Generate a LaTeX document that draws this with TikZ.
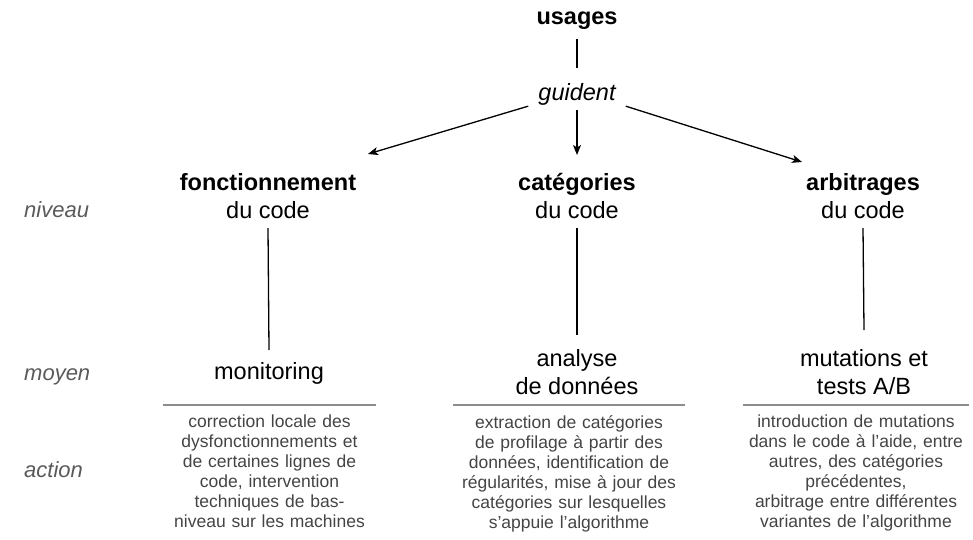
\documentclass[tikz,border=0pt]{standalone}
\usepackage{fontspec}
\setmainfont{Liberation Sans}
\usetikzlibrary{arrows.meta,calc}
\definecolor{lbl}{HTML}{5A5A5A}
\definecolor{acttxt}{HTML}{444444}
\definecolor{rulec}{HTML}{8C8C8C}
\tikzset{
  mainlbl/.style={font=\fontsize{23.5}{28.5}\selectfont, align=center, inner sep=2pt},
  sidelbl/.style={font=\fontsize{22}{26}\selectfont\itshape, text=lbl, anchor=base west, inner sep=0pt},
  actbox/.style={font=\fontsize{17.5}{20}\selectfont, text=acttxt, align=center, anchor=north, inner xsep=0pt, inner ysep=10pt},
  conn/.style={line width=1.3pt},
  arr/.style={line width=1.3pt, -{Stealth[length=10pt,width=8pt,inset=2.5pt]}},
  rulel/.style={line width=1.6pt, rulec}
}
\begin{document}
\begin{tikzpicture}[x=1pt,y=-1pt]
\useasboundingbox (0,0) rectangle (973,539);
% top
\node[mainlbl, font=\fontsize{23.5}{28.5}\selectfont\bfseries] (usages) at (577,21) {usages};
\node[mainlbl, font=\fontsize{23.5}{28.5}\selectfont\itshape] (guident) at (577,94) {guident};
\draw[conn] (usages.south |- 0,39) -- (guident.north |- 0,68);
% headings
\node[mainlbl] (h1) at (268,196) {\textbf{fonctionnement}\\du code};
\node[mainlbl] (h2) at (577,196) {\textbf{catégories}\\du code};
\node[mainlbl] (h3) at (863,196) {\textbf{arbitrages}\\du code};
% means
\node[mainlbl] (m1) at (269,373) {monitoring};
\node[mainlbl] (m2) at (577,372) {analyse\\de données};
\node[mainlbl] (m3) at (864,372) {mutations et\\tests A/B};
% side labels
\node[sidelbl] (niv) at (24,217) {niveau};
\node[sidelbl] (moy) at (24,380) {moyen};
\node[sidelbl] (act) at (24,477) {action};
% arrows
\coordinate (t1) at (368,154);
\coordinate (t3) at (802,162);
\draw[arr] ([xshift=-8pt,yshift=1pt]guident.south west) -- (t1);
\draw[arr] (guident.south |- 0,110) -- (h2.north |- 0,155);
\draw[arr] ([xshift=8pt,yshift=1pt]guident.south east) -- (t3);
% vertical connectors
\draw[conn] (h1.south |- 0,228) -- (m1.north |- 0,350);
\draw[conn] (h2.south |- 0,228) -- (m2.north |- 0,335);
\draw[conn] (h3.south |- 0,228) -- (m3.north |- 0,330);
% actions
\node[actbox, text width=213pt] (a1) at (269.5,405) {correction locale des\\dysfonctionnements et\\de certaines lignes de\\code, intervention\\techniques de bas-\\niveau sur les machines};
\node[actbox, text width=232pt] (a2) at (569,405) {extraction de catégories\\de profilage à partir des\\données, identification de\\régularités, mise à jour des\\catégories sur lesquelles\\s'appuie l’algorithme};
\node[actbox, text width=226pt] (a3) at (856,405) {introduction de mutations\\dans le code à l'aide, entre\\autres, des catégories\\précédentes,\\arbitrage entre différentes\\variantes de l’algorithme};
\draw[rulel] (a1.north west) -- (a1.north east);
\draw[rulel] (a2.north west) -- (a2.north east);
\draw[rulel] (a3.north west) -- (a3.north east);
\end{tikzpicture}
\end{document}
